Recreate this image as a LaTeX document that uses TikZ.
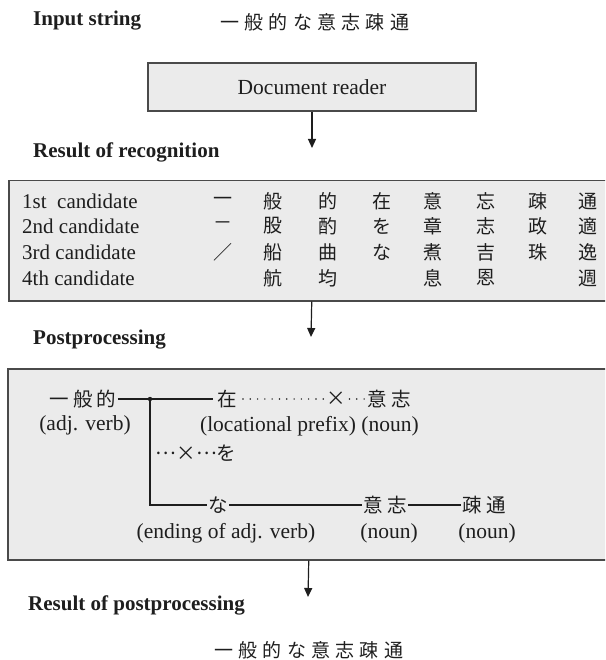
\documentclass[tikz,border=0pt]{standalone}
\usepackage{fontspec}
\setmainfont{Liberation Serif}
\newfontfamily\jpfont{Noto Sans CJK JP}
\usetikzlibrary{arrows.meta}
\definecolor{boxfill}{HTML}{EBEBEB}
\definecolor{boxline}{HTML}{4A4A4A}
\definecolor{ink}{HTML}{1E1E1E}
\newcommand\jg{\kern5.3pt}
\newcommand\jw{\kern4pt}
\newcommand\middots{\raisebox{5.8pt}{…}}
\begin{document}
\begin{tikzpicture}[x=1pt,y=-1pt,
  lab/.style={font=\fontsize{21}{24}\selectfont\bfseries, text=ink, anchor=west, inner sep=0pt},
  txt/.style={font=\fontsize{21.5}{24}\selectfont, text=ink, inner sep=0pt},
  cand/.style={font=\fontsize{21}{24}\selectfont, text=ink, anchor=west, inner sep=0pt},
  jp/.style={font=\fontsize{19}{21}\selectfont\jpfont, text=ink, inner sep=1.5pt},
  jpw/.style={font=\fontsize{19.5}{21}\selectfont\jpfont, text=ink, inner sep=1.5pt},
  box/.style={draw=boxline, fill=boxfill, line width=1.5pt},
  conn/.style={draw=ink, line width=1.2pt},
  dotline/.style={draw=ink, line width=1.6pt, line cap=round, dash pattern=on 0pt off 7.3pt},
  arr/.style={conn, -{Triangle[length=9pt,width=8pt]}}]
\useasboundingbox (0,0) rectangle (605,660);
\clip (0,0) rectangle (605,660);

% header
\node[lab] (inlab) at (33,21) {Input string};
\node[jp, anchor=west, inner sep=0pt] (instr) at (220,22) {一\jg 般\jg 的\jg な\jg 意\jg 志\jg 疎\jg 通};

% document reader
\node[box, line width=2pt, minimum width=328pt, minimum height=48pt, font=\fontsize{21.5}{24}\selectfont, text=ink] (reader) at (312,87) {Document reader};
\coordinate (a1) at (312,148);
\draw[arr] (reader.south) -- (a1);

% recognition
\node[lab] (reclab) at (33,152) {Result of recognition};
\node[box, anchor=north west, minimum width=606pt, minimum height=120pt] (recog) at (8,180) {};
\coordinate (a2) at (311,337);
\draw[arr] (recog.south) -- (a2);

\node[cand] (c1) at (22,201) {1st\ \ candidate};
\node[cand] (c2) at (22,226) {2nd candidate};
\node[cand] (c3) at (22,252) {3rd candidate};
\node[cand] (c4) at (22,278) {4th candidate};

\foreach \ch [count=\i] in {一,般,的,在,意,忘,疎,通}{
  \pgfmathsetmacro\xx{{223,273,328,382,433,486,538,588}[\i-1]}
  \node[jp] (ra\i) at (\xx,201) {\ch};}
\foreach \ch [count=\i] in {－,股,酌,を,章,志,政,適}{
  \pgfmathsetmacro\xx{{223,273,328,382,433,486,538,588}[\i-1]}
  \node[jp] (rb\i) at (\xx,226) {\ch};}
\foreach \ch [count=\i] in {／,船,曲,な,煮,吉,珠,逸}{
  \pgfmathsetmacro\xx{{223,273,328,382,433,486,538,588}[\i-1]}
  \node[jp] (rc\i) at (\xx,252) {\ch};}
\foreach \ch/\xx [count=\i] in {航/273,均/328,息/433,恩/486,週/588}{
  \node[jp] (rd\i) at (\xx,278) {\ch};}

% postprocessing
\node[lab] (postlab) at (33,340) {Postprocessing};
\node[box, anchor=north west, minimum width=602pt, minimum height=191pt] (post) at (7,368) {};
\coordinate (a3) at (308,597);
\draw[arr] (post.south) -- (a3);

\node[jpw] (g1) at (83,399) {一\jw 般\jw 的};
\node[txt] (g1l) at (85,425) {(adj. verb)};
\coordinate (jn) at (150,399);
\node[jpw, inner sep=4pt] (zai) at (227,399) {在};
\node[jpw, inner sep=0.5pt] (x1) at (336,399) {×};
\node[jpw] (ishi1) at (389,399) {意\jw 志};
\draw[conn] (g1.east) -- (jn) -- (zai.west);
\fill[ink] (jn) circle (2.2pt);
\draw[dotline] ([xshift=2pt]zai.east) -- (x1.west);
\draw[dotline] ([xshift=3pt]x1.east) -- (ishi1.west);
\node[txt] (lp) at (278,426) {(locational prefix)};
\node[txt] (n1) at (390,426) {(noun)};

\node[jpw, inner sep=0pt] (wo) at (196,453) {\middots×\middots を};

\coordinate (jb) at (150,505);
\node[jpw] (na) at (218,505) {な};
\node[jpw] (ishi2) at (385,505) {意\jw 志};
\node[jpw] (sotsu) at (484,505) {疎\jw 通};
\draw[conn] (jn) -- (jb) -- (na.west);
\draw[conn] (na.east) -- (ishi2.west);
\draw[conn] (ishi2.east) -- (sotsu.west);
\node[txt] (el) at (226,533) {(ending of adj. verb)};
\node[txt] (n2) at (389,533) {(noun)};
\node[txt] (n3) at (487,533) {(noun)};

% result
\node[lab] (reslab) at (28,605) {Result of postprocessing};
\node[jp, anchor=west, inner sep=0pt] (outstr) at (214,650) {一\jg 般\jg 的\jg な\jg 意\jg 志\jg 疎\jg 通};
\end{tikzpicture}
\end{document}
